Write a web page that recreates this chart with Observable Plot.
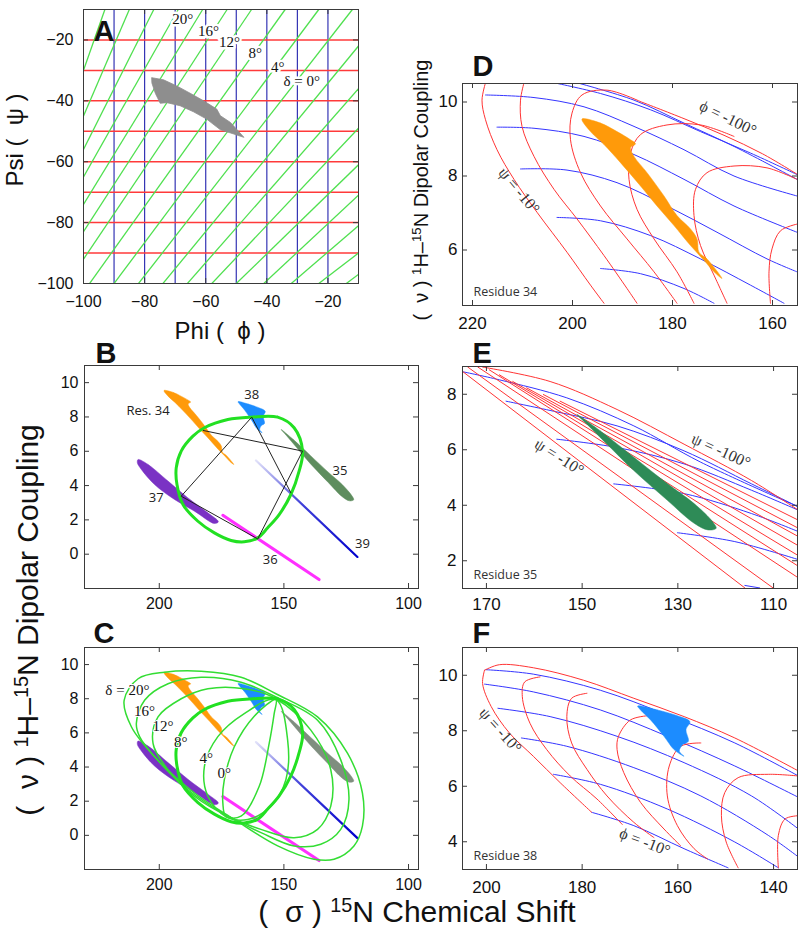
<!DOCTYPE html>
<html><head><meta charset="utf-8">
<script src="https://cdn.jsdelivr.net/npm/d3@7"></script>
<script src="https://cdn.jsdelivr.net/npm/@observablehq/plot@0.6"></script>
<style>
body{margin:0;background:#fff;}
#root{position:relative;width:800px;height:940px;overflow:hidden;background:#fff;font-family:"Liberation Sans",Arial,sans-serif;color:#111;}
.lab{position:absolute;white-space:pre;line-height:1;font-family:"Liberation Sans",Arial,sans-serif;color:#111;}
.lab sup{font-size:0.66em;vertical-align:0.5em;line-height:0;}
</style></head>
<body><div id="root"></div>
<svg width="0" height="0" style="position:absolute"><defs>
<linearGradient id="g39" x1="0" y1="0" x2="1" y2="1">
<stop offset="0" stop-color="#0000cc" stop-opacity="0.12"/>
<stop offset="0.45" stop-color="#0000cc" stop-opacity="0.75"/>
<stop offset="1" stop-color="#0000cc" stop-opacity="1"/>
</linearGradient></defs></svg>
<script>
// ---------------- DATA ----------------
// Panel A (phi, psi)
const phiTicks = [-100, -80, -60, -40, -20];
const psiTicks = [-100, -80, -60, -40, -20];
const psiGrid = [-20, -30, -40, -50, -60, -70, -80, -90];
const phiGrid = [-90, -80, -70, -60, -50, -40, -30, -20];
const deltaLines = [
  [-100,-30,-93,-10],[-100,-45,-85,-10],[-100,-56,-77,-10],[-100,-65,-69,-10],
  [-100,-74,-61,-10],[-100,-83,-53,-10],[-100,-92,-45,-10],[-98,-100,-34,-10],
  [-90,-100,-23,-10],[-82,-100,-12,-10],[-74,-100,-10,-22],[-66,-100,-10,-36],
  [-58,-100,-10,-49],[-50,-100,-10,-61],[-41,-100,-10,-71],[-32,-100,-10,-81],
  [-23,-100,-10,-90],[-14,-100,-10,-97]
];
const deltaLabels = [
  {t:"20°", phi:-67.5, psi:-13.3},{t:"16°", phi:-59.1, psi:-17.0},{t:"12°", phi:-52.2, psi:-20.6},
  {t:"8°", phi:-43.8, psi:-24.5},{t:"4°", phi:-36.4, psi:-28.8},{t:"δ = 0°", phi:-28.6, psi:-33.4}
];
const blobA = [
  [-77.6,-32.4],[-73.8,-33.1],[-69.5,-35.1],[-65.1,-37.5],[-60.7,-40.0],[-56.4,-42.7],[-55.2,-44.9],
  [-51.9,-47.1],[-47.5,-52.0],[-50.8,-50.9],[-55.2,-49.5],[-59.7,-46.0],[-64.0,-43.6],[-68.4,-41.6],
  [-72.7,-40.6],[-74.9,-40.8],[-76.5,-37.5],[-77.6,-34.2]
];

// Residue shapes (15N chemical shift, dipolar coupling)
const res34 = [
  [198.1,9.54],[194.4,9.43],[191.1,9.20],[188.4,8.98],[187.4,8.87],[188.4,8.76],[187.7,8.53],[185.1,8.09],
  [181.7,7.46],[179.1,6.93],[176.4,6.57],[175.1,6.30],[174.7,5.94],[173.1,5.76],[170.1,5.23],
  [171.7,5.41],[173.7,5.72],[176.4,6.12],[179.7,6.66],[183.1,7.19],[186.4,7.73],[190.4,8.36],[193.7,8.85],[196.4,9.20]
];
const res35 = [
  [151.1,7.27],[146.2,6.68],[139.2,5.73],[132.2,4.78],[126.6,4.06],[122.7,3.40],[122.0,3.17],
  [123.7,3.11],[126.6,3.35],[132.2,4.18],[139.2,5.25],[144.8,6.20],[149.0,6.92]
];
const res38 = [
  [168.4,8.89],[164.3,8.75],[160.1,8.54],[157.5,8.33],[158.3,8.04],[157.8,7.62],[159.0,7.50],
  [159.7,7.26],[158.7,7.08],[160.8,7.32],[162.9,7.80],[165.7,8.39],[167.8,8.75]
];
const res37 = [
  [208.5,5.52],[204.5,5.23],[196.5,4.26],[188.5,3.28],[180.5,2.41],[176.3,1.89],
  [177.9,1.79],[185.9,2.51],[193.9,3.19],[201.9,4.06],[207.2,4.94],[208.8,5.33]
];
const res36 = [[174.5,2.27],[135.9,-1.48]];
const res39 = [[161.2,5.46],[120.5,-0.16]];

// Panels B / C
const csTicksBC = [200, 150, 100];
const dcTicksBC = [0, 2, 4, 6, 8, 10];
const wheel8 = [
  [163.2,7.99],[152.5,7.99],[145.9,7.37],[142.5,6.00],[143.9,4.84],[147.2,3.48],[151.9,2.31],[156.5,1.54],
  [160.5,0.95],[165.9,0.72],[171.2,0.80],[177.9,1.24],[184.5,1.92],[190.5,2.90],[192.9,4.06],[193.2,5.03],
  [191.2,6.01],[186.5,6.88],[181.9,7.37],[172.5,7.85]
];
const residuePath = [[182.3,7.21],[142.5,6.01],[160.5,0.89],[191.2,3.38],[162.9,7.99],[147.2,3.58]];
const resLabelsB = [
  {t:"Res. 34", cs:204.5, dc:8.34},{t:"38", cs:162.9, dc:9.27},{t:"35", cs:127.5, dc:4.88},
  {t:"37", cs:201.2, dc:3.28},{t:"39", cs:118.5, dc:0.62},{t:"36", cs:155.5, dc:-0.31}
];
const wheel20 = [[211.2,6.36],[214.1,7.91],[208.5,9.17],[197.9,9.55],[183.2,9.61],[167.2,9.26],[153.2,8.29],[136.5,6.94],[124.5,4.81],[118.5,2.48],[118.5,0.54],[121.9,-0.62],[129.9,-1.40],[137.9,-1.40],[152.5,-0.62],[169.9,0.93],[185.9,2.48],[201.9,4.61]];
const wheel16 = [[207.9,5.78],[209.2,6.55],[205.9,7.91],[196.5,8.88],[183.2,9.26],[167.2,8.97],[153.2,8.10],[136.5,6.74],[127.2,4.42],[123.9,2.09],[127.2,0.35],[135.2,-0.52],[145.9,-0.62],[159.2,0.16],[172.5,1.12],[188.5,2.67],[201.9,4.61]];
const wheel12 = [[196.5,3.84],[202.5,5.39],[200.5,6.94],[191.2,8.00],[180.5,8.59],[165.9,8.59],[153.2,8.00],[139.2,6.16],[131.2,3.84],[131.2,1.71],[136.5,0.35],[145.9,-0.14],[159.2,0.35],[172.5,1.12],[185.9,2.29]];
const wheel4 = [[173.2,1.09],[180.5,2.29],[181.9,4.03],[176.5,5.78],[165.9,7.13],[153.2,7.95],[148.5,5.58],[149.2,3.26],[155.2,1.71],[164.5,0.93]];
const wheel0 = [[173.2,1.09],[174.5,1.90],[173.9,3.26],[169.9,5.19],[161.9,6.98],[153.2,7.95],[153.9,7.13],[155.9,5.39],[159.9,2.87],[167.2,1.12]];
const tiltLabels = [
  {t:"δ = 20°", cs:212.8, dc:8.49},{t:"16°", cs:205.9, dc:7.25},{t:"12°", cs:198.5, dc:6.41},
  {t:"8°", cs:191.4, dc:5.45},{t:"4°", cs:181.2, dc:4.50},{t:"0°", cs:173.9, dc:3.64}
];

// Panel D (residue 34)
const csTicksD = [220, 200, 180, 160];
const dcTicksD = [6, 8, 10];
const blueD = [
  [[203.7,10.52],[194.4,10.23],[184.4,9.79],[174.4,9.20],[164.4,8.62],[155.1,8.04]],
  [[199.1,10.52],[187.7,10.05],[177.7,9.43],[167.7,8.80],[155.1,7.91]],
  [[217.4,10.19],[207.7,10.12],[197.7,9.87],[187.7,9.34],[177.7,8.71],[167.7,8.00],[155.1,7.46]],
  [[215.1,9.32],[207.7,9.29],[197.7,9.07],[187.7,8.58],[177.7,7.91],[167.7,7.19],[155.1,6.48]],
  [[210.4,8.19],[201.1,8.16],[191.1,7.82],[181.1,7.19],[171.1,6.48],[161.1,5.76],[155.1,5.41]],
  [[203.1,6.88],[194.4,6.79],[184.4,6.39],[174.4,5.76],[164.4,5.05],[157.7,4.56]],
  [[194.4,5.50],[186.4,5.36],[177.7,4.96],[171.7,4.56]]
];
const redD = [
  [[217.4,10.52],[218.1,10.05],[217.4,9.52],[215.1,8.71],[211.7,7.91],[207.1,7.02],[201.1,5.94],[196.4,5.05],[193.7,4.56]],
  [[209.7,10.52],[210.4,10.05],[210.1,9.34],[207.7,8.53],[203.7,7.64],[199.1,6.84],[193.7,5.85],[189.1,4.96],[187.1,4.56]],
  [[186.4,10.01],[193.1,10.32],[198.1,10.19],[200.1,9.70],[200.4,8.98],[198.4,8.09],[194.4,7.19],[189.1,6.30],[183.7,5.41],[179.1,4.56]],
  [[167.7,9.07],[174.4,9.38],[181.1,9.38],[186.4,9.12],[188.4,8.62],[188.7,7.91],[187.1,7.10],[183.7,6.30],[179.1,5.41],[175.7,4.56]],
  [[155.1,7.91],[161.1,8.22],[167.7,8.27],[173.1,8.09],[175.4,7.64],[175.7,6.93],[174.4,6.12],[171.7,5.32],[169.1,4.56]],
  [[155.1,6.70],[158.4,6.52],[160.1,6.03],[160.7,5.41],[160.4,4.56]],
  [[186.4,10.01],[177.7,9.55],[169.7,9.10],[162.0,8.60],[155.1,8.05]]
];
const gridLabelsD = [{t:"ϕ = -100°", cs:168.9, dc:9.56, r:26},{t:"ψ = -10°", cs:210.7, dc:7.60, r:50}];

// Panel E (residue 35)
const csTicksE = [170, 150, 130, 110];
const dcTicksE = [2, 4, 6, 8];
const blueE = [
  [[175.2,8.82],[167.3,8.52],[153.2,7.87],[139.2,6.86],[125.2,5.55],[104.8,3.94]],
  [[165.9,7.75],[156.0,7.39],[142.7,6.86],[128.7,5.96],[114.6,4.77],[104.8,3.94]],
  [[155.3,6.38],[142.7,6.08],[128.7,5.49],[114.6,4.54],[104.8,3.82]],
  [[143.4,4.77],[128.7,4.42],[114.6,3.70],[104.8,3.05]],
  [[130.1,3.01],[118.1,2.69],[104.8,2.04]],
  [[116.0,1.11],[112.9,1.02]]
];
const redE = [
  [[175.2,8.85],[116.0,1.02]],[[173.9,8.98],[110.1,1.02]],[[171.8,8.98],[104.8,1.38]],
  [[169.4,8.88],[104.8,1.80]],[[167.3,8.70],[104.8,2.18]],[[164.5,8.46],[104.8,2.54]],
  [[161.6,8.23],[104.8,2.87]],[[158.1,7.99],[104.8,3.17]],[[154.6,7.75],[104.8,3.46]],
  [[170.8,8.98],[156.7,8.46],[142.7,7.45],[128.7,6.20],[114.6,4.89],[104.8,3.82]]
];
const gridLabelsE = [{t:"ψ = -100°", cs:121.0, dc:5.96, r:24},{t:"ψ = -10°", cs:154.8, dc:5.73, r:32}];

// Panel F (residue 38)
const csTicksF = [200, 180, 160, 140];
const dcTicksF = [4, 6, 8, 10];
const blueF = [
  [[200.1,10.20],[190.2,10.04],[176.2,9.46],[162.2,8.57],[148.1,7.56],[134.8,6.37]],
  [[200.4,9.68],[190.2,9.40],[176.2,8.75],[162.2,7.80],[148.1,6.73],[134.8,5.60]],
  [[197.6,8.81],[186.7,8.51],[172.7,7.80],[158.7,6.85],[144.6,5.65],[134.8,4.46]],
  [[192.7,7.74],[183.2,7.44],[169.2,6.67],[155.2,5.65],[141.1,4.23],[134.8,3.45]],
  [[186.0,6.43],[176.2,6.07],[162.2,5.18],[148.1,3.99],[139.0,3.06]],
  [[178.0,5.06],[169.2,4.58],[158.7,3.75],[149.5,3.06]]
];
const redF = [
  [[200.4,10.18],[197.3,10.38],[190.2,10.27],[179.7,9.82],[169.2,9.17],[158.7,8.51],[148.1,7.74],[134.8,6.55]],
  [[200.4,10.18],[200.8,9.70],[199.0,8.87],[195.2,7.92],[190.2,7.08],[184.6,6.13],[178.0,5.06]],
  [[188.8,9.94],[192.0,9.76],[192.5,9.23],[190.9,8.27],[187.4,7.32],[182.5,6.37],[176.9,5.54],[171.6,4.62]],
  [[179.0,9.35],[182.2,9.17],[183.2,8.51],[182.2,7.56],[179.0,6.61],[174.8,5.65],[169.2,4.70],[165.0,4.15]],
  [[166.4,8.54],[169.9,8.39],[172.4,7.80],[172.7,7.32],[171.3,6.49],[167.8,5.42],[162.9,4.46],[159.4,3.85]],
  [[155.2,7.56],[159.4,7.44],[161.8,6.73],[162.2,5.65],[160.1,4.58],[156.6,3.75],[153.8,3.38]],
  [[134.8,6.37],[141.1,6.43],[147.4,6.31],[150.2,5.77],[150.9,4.94],[149.9,3.99],[147.4,3.06]],
  [[134.8,4.94],[137.6,4.82],[139.0,4.23],[139.0,3.06]]
];
const gridLabelsF = [{t:"ψ = -10°", cs:197.1, dc:8.01, r:48},{t:"ϕ = -10°", cs:166.9, dc:3.99, r:21}];

// ---------------- DRAWING ----------------
const root = document.getElementById("root");
const RED = "#ff3434", BLUE = "#3535ff";
const XY = {x: d => d[0], y: d => d[1]};
const SERIF = "Liberation Serif, Times New Roman, serif";
const HUMAN = "Open Sans, Noto Sans, sans-serif";

function addPanel(o) {
  const ml = 70, mr = 12, mt = 45, mb = 40;
  const fw = o.w, fh = o.h;
  const marks = [
    ...o.marks,
    Plot.frame({stroke: "#3a3a3a", strokeWidth: 1}),
    Plot.tickX(o.xTicks, {x: d => d, insetTop: fh - 5, stroke: "#3a3a3a"}),
    Plot.tickX(o.xTicks, {x: d => d, insetBottom: fh - 5, stroke: "#3a3a3a"}),
    Plot.tickY(o.yTicks, {y: d => d, insetRight: fw - 5, stroke: "#3a3a3a"}),
    Plot.tickY(o.yTicks, {y: d => d, insetLeft: fw - 5, stroke: "#3a3a3a"}),
    Plot.axisX(o.xTicks, {tickSize: 0, tickPadding: o.xPad, fontSize: o.fs, label: null}),
    Plot.axisY(o.yTicks, {tickSize: 0, tickPadding: o.yPad, fontSize: o.fs, label: null}),
    Plot.text([o.letter], {text: d => d, frameAnchor: "top-left", dx: o.ldx, dy: o.ldy, fontSize: 29,
      fontWeight: "bold", textAnchor: "start", lineAnchor: "bottom", fill: "#111"})
  ];
  const svg = Plot.plot({
    width: fw + ml + mr, height: fh + mt + mb,
    marginLeft: ml, marginRight: mr, marginTop: mt, marginBottom: mb,
    x: {domain: o.xDomain, label: null}, y: {domain: o.yDomain, label: null},
    style: {background: "transparent", overflow: "visible", fontFamily: "Liberation Sans, Arial, sans-serif", color: "#111"},
    marks
  });
  svg.style.position = "absolute";
  svg.style.left = (o.left - ml) + "px";
  svg.style.top = (o.top - mt) + "px";
  root.appendChild(svg);
}

function addLabel(html, cx, cy, size, rot) {
  const d = document.createElement("div");
  d.className = "lab";
  d.innerHTML = html;
  d.style.fontSize = size + "px";
  d.style.left = cx + "px";
  d.style.top = cy + "px";
  d.style.transform = `translate(-50%,-50%)` + (rot ? ` rotate(${rot}deg)` : "");
  root.appendChild(d);
}

function residueLabel(t) {
  return Plot.text([t], {text: d => d, frameAnchor: "bottom-left", dx: 11, dy: -10, textAnchor: "start",
    lineAnchor: "bottom", fontFamily: HUMAN, fontSize: 12.5, fill: "#333"});
}
function shape(data, color) {
  return Plot.line(data, {...XY, fill: color, stroke: color, strokeWidth: 0.5, curve: "catmull-rom-closed", clip: true});
}
function curves(list, color, w = 1) {
  return list.map(c => Plot.line(c, {...XY, stroke: color, strokeWidth: w, curve: "catmull-rom", clip: true}));
}
function gridText(data) {
  return Plot.text(data, {x: "cs", y: "dc", text: "t", rotate: d => d.r, fontFamily: SERIF, fontSize: 16, fill: "#333"});
}

// Panel A
addPanel({
  left: 83, top: 9, w: 275, h: 274, xDomain: [-100, -10], yDomain: [-100, -10],
  xTicks: phiTicks, yTicks: psiTicks, xPad: 12, yPad: 10, fs: 16, letter: "A", ldx: 10, ldy: 31,
  marks: [
    Plot.ruleX(phiGrid, {stroke: "#3434b4", strokeWidth: 1.2}),
    Plot.ruleY(psiGrid, {stroke: "#ff3a3a", strokeWidth: 1.5}),
    Plot.link(deltaLines, {x1: d => d[0], y1: d => d[1], x2: d => d[2], y2: d => d[3], stroke: "#4fe04f", strokeWidth: 1.3, clip: true}),
    Plot.line(blobA, {...XY, fill: "#8e8e8e", stroke: "#8e8e8e", strokeWidth: 0.8, curve: "linear-closed"}),
    Plot.text(deltaLabels, {x: "phi", y: "psi", text: "t", fontFamily: SERIF, fontSize: 15, fill: "#111", stroke: "white", strokeWidth: 5})
  ]
});

function residueMarks(c35) {
  return [
    shape(res34, "#ff9a0a"),
    shape(res38, "#1c8cff"),
    shape(res35, c35),
    shape(res37, "#7a32c4"),
    Plot.line(res36, {...XY, stroke: "#ff30ff", strokeWidth: 3}),
    Plot.line(res39, {...XY, stroke: "url(#g39)", strokeWidth: 2.2})
  ];
}

// Panel B
addPanel({
  left: 84, top: 365, w: 334, h: 223, xDomain: [230, 96], yDomain: [-2, 11],
  xTicks: csTicksBC, yTicks: dcTicksBC, xPad: 9, yPad: 6, fs: 16, letter: "B", ldx: 11, ldy: -3,
  marks: [
    ...residueMarks("#5e8d5e"),
    Plot.line(wheel8, {...XY, stroke: "#22e022", strokeWidth: 3, curve: "catmull-rom-closed"}),
    Plot.line(residuePath, {...XY, stroke: "#222", strokeWidth: 1}),
    Plot.text(resLabelsB, {x: "cs", y: "dc", text: "t", fontFamily: HUMAN, fontSize: 13, fill: "#222"})
  ]
});

// Panel C
addPanel({
  left: 84, top: 647, w: 334, h: 222, xDomain: [230, 96], yDomain: [-2, 11],
  xTicks: csTicksBC, yTicks: dcTicksBC, xPad: 9, yPad: 6, fs: 16, letter: "C", ldx: 9, ldy: -5,
  marks: [
    ...residueMarks("#7f8e7f"),
    ...[wheel20, wheel16, wheel12, wheel4, wheel0].map(w => Plot.line(w, {...XY, stroke: "#33dd33", strokeWidth: 1.5, curve: "catmull-rom-closed"})),
    Plot.line(wheel8, {...XY, stroke: "#22e022", strokeWidth: 3, curve: "catmull-rom-closed"}),
    Plot.text(tiltLabels, {x: "cs", y: "dc", text: "t", fontFamily: SERIF, fontSize: 15, fill: "#111", stroke: "white", strokeWidth: 2})
  ]
});

// Panel D
addPanel({
  left: 462, top: 83, w: 335, h: 222, xDomain: [222, 155], yDomain: [4.5, 10.5],
  xTicks: csTicksD, yTicks: dcTicksD, xPad: 11, yPad: 5, fs: 17, letter: "D", ldx: 10, ldy: -8,
  marks: [
    ...curves(blueD, BLUE), ...curves(redD, RED),
    shape(res34, "#ff9a0a"),
    gridText(gridLabelsD), residueLabel("Residue 34")
  ]
});

// Panel E
addPanel({
  left: 462, top: 366, w: 335, h: 222, xDomain: [175, 105], yDomain: [1, 9],
  xTicks: csTicksE, yTicks: dcTicksE, xPad: 9, yPad: 6, fs: 17, letter: "E", ldx: 10, ldy: -4,
  marks: [
    ...curves(blueE, BLUE), ...curves(redE, RED),
    shape(res35, "#2e8b57"),
    gridText(gridLabelsE), residueLabel("Residue 35")
  ]
});

// Panel F
addPanel({
  left: 462, top: 647, w: 335, h: 222, xDomain: [205, 135], yDomain: [3, 11],
  xTicks: csTicksF, yTicks: dcTicksF, xPad: 11, yPad: 5, fs: 17, letter: "F", ldx: 10, ldy: -5,
  marks: [
    ...curves(blueF, BLUE), ...curves(redF, RED),
    shape(res38, "#1c8cff"),
    gridText(gridLabelsF), residueLabel("Residue 38")
  ]
});

// Axis titles
addLabel("Phi (  ϕ )", 220, 331, 24, 0);
addLabel("Psi (  ψ )", 15, 140, 24, -90);
addLabel("(  ν ) <sup>1</sup>H–<sup>15</sup>N Dipolar Coupling", 28, 620, 30, -90);
addLabel("(  σ ) <sup>15</sup>N Chemical Shift", 417, 912, 30, 0);
addLabel("(  ν ) <sup>1</sup>H–<sup>15</sup>N Dipolar Coupling", 421, 190, 20, -90);
</script>
</body></html>
